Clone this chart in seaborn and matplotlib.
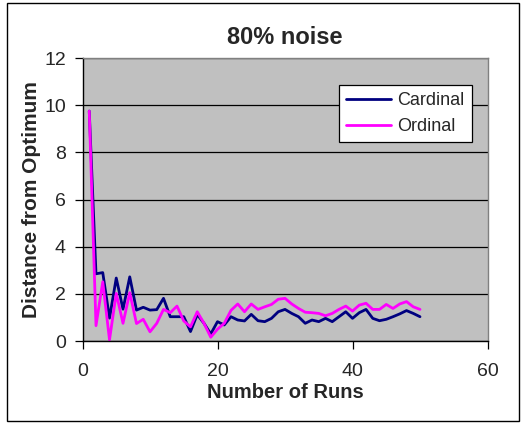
import matplotlib
matplotlib.use("Agg")
import matplotlib.pyplot as plt
from matplotlib.patches import Rectangle
import pandas as pd
import seaborn as sns

# Distance from optimum per run, at 80% noise
runs = list(range(1, 51))
cardinal = [9.75, 2.85, 2.9, 0.97, 2.67, 1.35, 2.72, 1.31, 1.43, 1.31,
            1.33, 1.81, 1.03, 1.03, 1.03, 0.4, 1.12, 0.75, 0.3, 0.82,
            0.68, 1.03, 0.89, 0.85, 1.13, 0.86, 0.82, 0.96, 1.24, 1.34,
            1.17, 1.03, 0.75, 0.89, 0.82, 0.96, 0.82, 1.03, 1.24, 0.96,
            1.2, 1.34, 0.96, 0.86, 0.92, 1.03, 1.15, 1.29, 1.17, 1.03]
ordinal = [9.75, 0.65, 2.51, 0.05, 2.02, 0.75, 2.05, 0.74, 0.92, 0.39,
           0.75, 1.34, 1.2, 1.48, 0.85, 0.6, 1.24, 0.75, 0.16, 0.5,
           0.75, 1.3, 1.57, 1.24, 1.57, 1.34, 1.45, 1.55, 1.77, 1.81,
           1.57, 1.38, 1.22, 1.2, 1.17, 1.07, 1.17, 1.34, 1.48, 1.27,
           1.52, 1.6, 1.34, 1.34, 1.55, 1.38, 1.57, 1.67, 1.45, 1.34]
series_names = ["Cardinal", "Ordinal"]
series_colors = ["#000080", "#FF00FF"]
x_ticks = [0, 20, 40, 60]
y_ticks = [0, 2, 4, 6, 8, 10, 12]

df = pd.DataFrame({
    "Number of Runs": runs * 2,
    "Distance from Optimum": cardinal + ordinal,
    "Method": [series_names[0]] * len(runs) + [series_names[1]] * len(runs),
})

sns.set_style("white")
plt.rcParams["font.family"] = ["Liberation Sans", "DejaVu Sans"]

fig = plt.figure(figsize=(5.30, 4.23), dpi=100)
ax = fig.add_axes([82.5 / 530, 82 / 423, 405 / 530, 283 / 423])
ax.set_facecolor("#C0C0C0")

sns.lineplot(data=df, x="Number of Runs", y="Distance from Optimum",
             hue="Method", palette=series_colors, linewidth=2.0,
             ax=ax, legend=True)

ax.set_xlim(0, 60)
ax.set_ylim(0, 12)
ax.set_xticks(x_ticks)
ax.set_yticks(y_ticks)
ax.yaxis.grid(True, color="black", linewidth=0.9)
ax.set_axisbelow(True)

for side in ("left", "bottom"):
    ax.spines[side].set_color("black")
    ax.spines[side].set_linewidth(1.0)
for side in ("top", "right"):
    ax.spines[side].set_color("#808080")
    ax.spines[side].set_linewidth(1.0)

ax.tick_params(axis="both", direction="out", length=6, width=0.9,
               color="black", labelsize=14)
ax.tick_params(axis="x", pad=10, bottom=True)
ax.tick_params(axis="y", pad=6, left=True)

ax.set_xlabel("Number of Runs", fontsize=14.5, fontweight="bold", labelpad=2)
ax.set_ylabel("Distance from Optimum", fontsize=15, fontweight="bold", labelpad=2)
ax.set_title("80% noise", fontsize=17, fontweight="bold", pad=10)

leg = ax.legend(loc="upper left", bbox_to_anchor=(0.633, 0.905),
                borderaxespad=0, fontsize=13, frameon=True, fancybox=False,
                handlelength=2.5, handletextpad=0.35, borderpad=0.4,
                labelspacing=0.5)
leg.get_frame().set_edgecolor("black")
leg.get_frame().set_facecolor("white")
leg.get_frame().set_linewidth(0.9)
leg.get_frame().set_alpha(1)
for line in leg.get_lines():
    line.set_linewidth(2.0)

fig.patches.append(Rectangle((7 / 530, 2 / 423), 512 / 530, 418 / 423,
                             transform=fig.transFigure, fill=False,
                             edgecolor="black", linewidth=1.0))

fig.savefig("out.png", dpi=100, facecolor="white")
